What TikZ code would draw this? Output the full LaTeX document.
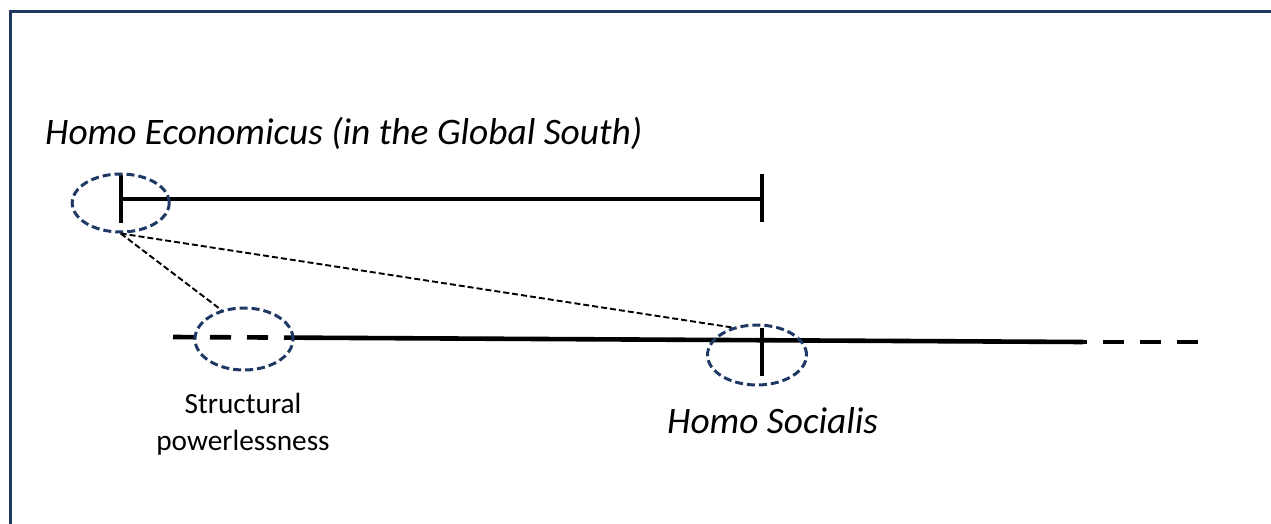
\documentclass[tikz,border=0pt]{standalone}
\usepackage{fontspec}
\setmainfont{Carlito}
\usetikzlibrary{shapes.geometric}
\definecolor{navy}{HTML}{1F3864}
\tikzset{
  frameline/.style={draw=navy, line width=3pt},
  bar/.style={draw=black, line width=4.6pt},
  ring/.style={ellipse, draw=navy, line width=3pt, dash pattern=on 8pt off 4pt, inner sep=0pt},
  link/.style={draw=black, line width=1.9pt, dash pattern=on 6pt off 3pt},
  dashbar/.style={draw=black, line width=4.6pt, dash pattern=on 21pt off 16pt},
  bigtext/.style={font=\fontsize{37.4}{45}\selectfont\itshape, inner sep=0pt},
  smalltext/.style={font=\fontsize{29.3}{37}\selectfont, align=center, inner sep=0pt}
}
\begin{document}
\begin{tikzpicture}[x=1pt,y=-1pt]
\useasboundingbox (0,0) rectangle (1271,524);
\draw[frameline] (10,530) -- (10,11.5) -- (1280,11.5);
% top scale
\coordinate (tl) at (121,199);
\coordinate (tr) at (762,199);
\draw[bar] (tl) -- (tr);
\draw[bar] (121,175) -- (121,223);
\draw[bar] (762,174) -- (762,222);
% lower scale
\coordinate (l0) at (173,337);
\coordinate (l1) at (287,337.6);
\coordinate (l2) at (1083,342);
\coordinate (l3) at (1200,342);
\draw[dashbar] (l0) -- (l1);
\draw[bar] (l1) -- (l2);
\draw[dashbar, dash phase=-20pt] (l2) -- (l3);
\draw[bar] (762,328) -- (762,376);
% rings
\node[ring, minimum width=97pt, minimum height=58pt] (eL) at (120.7,203) {};
\node[ring, minimum width=98pt, minimum height=62pt] (eS) at (244,339) {};
\node[ring, minimum width=99pt, minimum height=60pt] (eR) at (757,355) {};
\draw[link] (eL.south) -- (eS.128);
\draw[link] (eL.south) -- (eR.132);
% texts
\node[bigtext, anchor=base west] (he) at (45,145) {Homo Economicus (in the Global South)};
\node[bigtext, anchor=base west] (hs) at (667,433) {Homo Socialis};
\node[smalltext, anchor=base] (sp) at (243,450) {Structural\\powerlessness};
\end{tikzpicture}
\end{document}
